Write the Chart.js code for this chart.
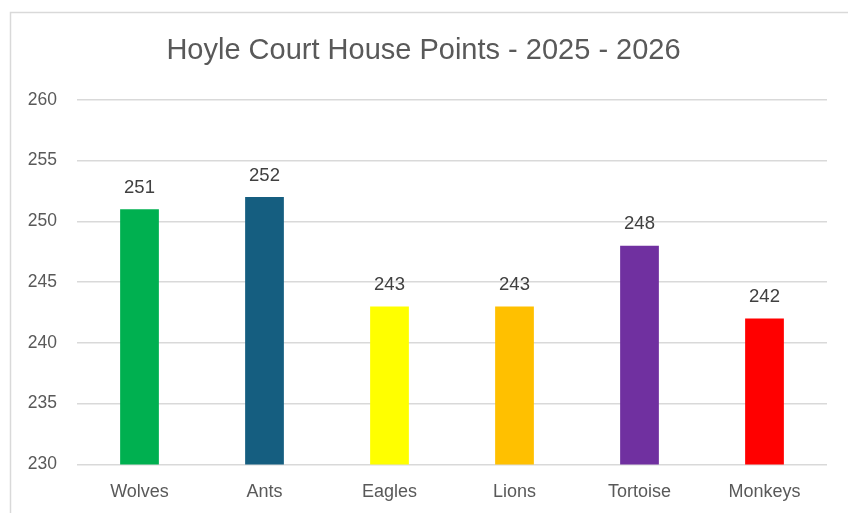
<!DOCTYPE html>
<html>
<head>
<meta charset="utf-8">
<script src="https://cdn.jsdelivr.net/npm/chart.js@4"></script>
<style>
  html, body { margin: 0; padding: 0; background: #fff; overflow: hidden; }
  #wrap { width: 848px; height: 513px; position: relative; }
</style>
</head>
<body>
<div id="wrap"><canvas id="chart" width="848" height="513"></canvas></div>
<script>
const houses = ["Wolves", "Ants", "Eagles", "Lions", "Tortoise", "Monkeys"];
const points = [251, 252, 243, 243, 248, 242];
const houseColors = ["#00b050", "#155e80", "#ffff00", "#ffc000", "#7030a0", "#ff0000"];

const textGrey = "#595959";
const fontFamily = "'Liberation Sans', Arial, sans-serif";

// draws the thin frame Excel puts round a chart
const frame = {
  id: "frame",
  beforeDraw(chart) {
    const ctx = chart.ctx;
    ctx.save();
    ctx.strokeStyle = "#d9d9d9";
    ctx.lineWidth = 1.5;
    ctx.strokeRect(10.5, 12.5, chart.width + 20, chart.height + 20);
    ctx.restore();
  },
};

// value above each bar, no datalabels plugin available
const valueLabels = {
  id: "valueLabels",
  afterDatasetsDraw(chart) {
    const ctx = chart.ctx;
    const meta = chart.getDatasetMeta(0);
    ctx.save();
    ctx.font = `18.5px ${fontFamily}`;
    ctx.fillStyle = "#404040";
    ctx.textAlign = "center";
    ctx.textBaseline = "bottom";
    meta.data.forEach((bar, i) => {
      ctx.fillText(String(points[i]), bar.x, bar.y - 12);
    });
    ctx.restore();
  },
};

new Chart(document.getElementById("chart"), {
  type: "bar",
  plugins: [frame, valueLabels],
  data: {
    labels: houses,
    datasets: [
      {
        label: "Points",
        data: points,
        backgroundColor: houseColors,
        barPercentage: 0.31,
        categoryPercentage: 1,
      },
    ],
  },
  options: {
    animation: false,
    responsive: false,
    layout: {
      padding: { left: 20, right: 21, top: 0, bottom: -7 },
    },
    plugins: {
      legend: { display: false },
      tooltip: { enabled: false },
      title: {
        display: true,
        text: "Hoyle Court House Points - 2025 - 2026",
        color: textGrey,
        font: { family: fontFamily, size: 29, weight: "normal" },
        padding: { top: 34, bottom: 31 },
      },
    },
    scales: {
      x: {
        grid: { display: false, drawTicks: false },
        border: { display: false },
        ticks: {
          color: textGrey,
          padding: 17,
          font: { family: fontFamily, size: 18 },
        },
      },
      y: {
        min: 230,
        max: 260,
        afterFit(scale) {
          scale.width = 57;
        },
        grid: { color: "#d9d9d9", lineWidth: 1.5, drawTicks: false },
        border: { display: false },
        ticks: {
          stepSize: 5,
          color: textGrey,
          padding: 20,
          font: { family: fontFamily, size: 17.5 },
        },
      },
    },
  },
});
</script>
</body>
</html>
